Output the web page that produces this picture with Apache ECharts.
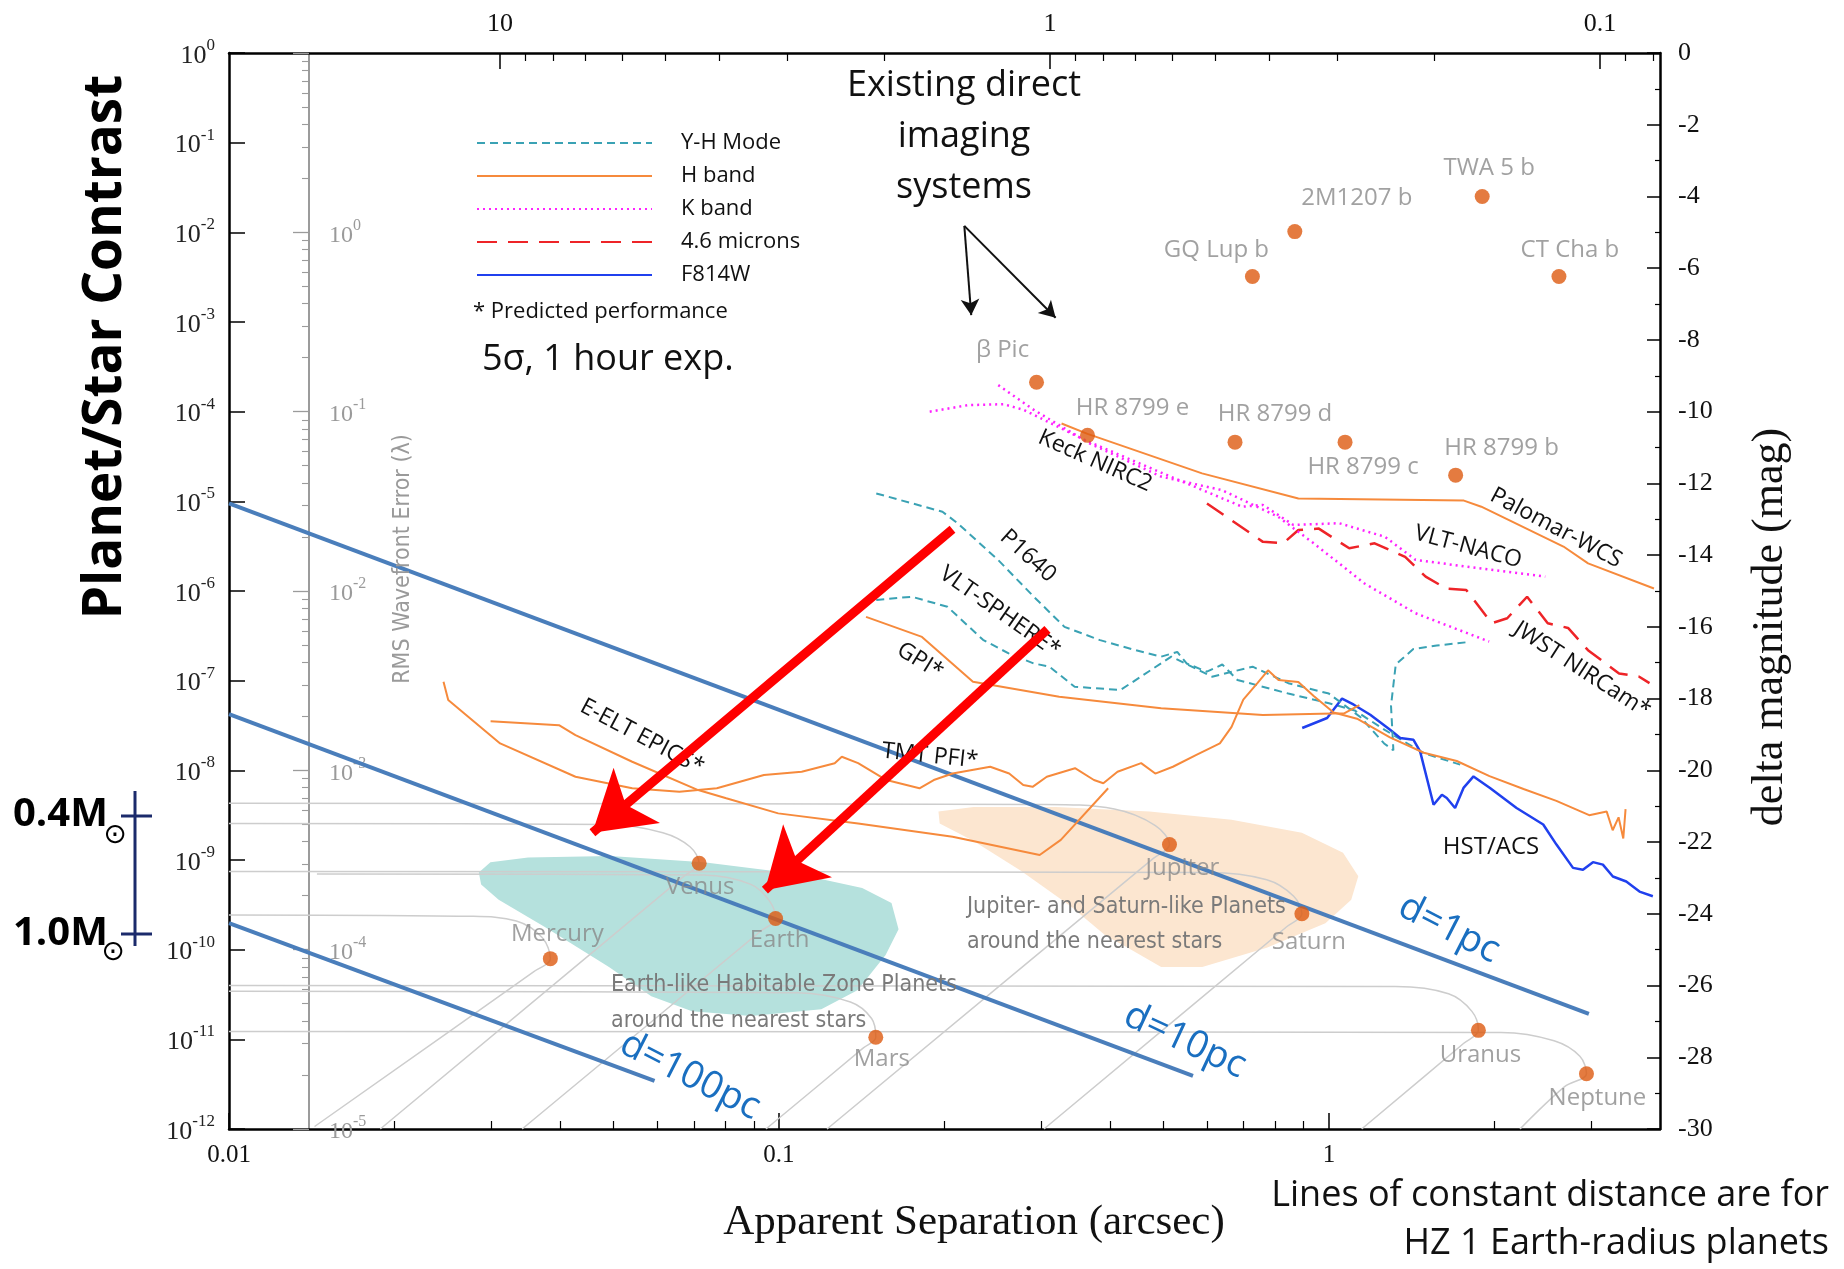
<!DOCTYPE html>
<html><head><meta charset="utf-8">
<script src="https://cdn.jsdelivr.net/npm/echarts@6/dist/echarts.min.js"></script>
<style>html,body{margin:0;padding:0;background:#fff}#c{width:1844px;height:1269px}</style>
</head><body><div id="c"></div>
<script>
// ---------------- DATA (separation in arcsec, delta magnitude in mag) ----------------
const planetNames = ['TWA 5 b','2M1207 b','GQ Lup b','CT Cha b','β Pic','HR 8799 e','HR 8799 d','HR 8799 c','HR 8799 b','Mercury','Venus','Earth','Mars','Jupiter','Saturn','Uranus','Neptune'];
const planetSep = [1.90,0.867,0.726,2.62,0.294,0.364,0.675,1.07,1.70,0.0384,0.0716,0.0986,0.150,0.513,0.893,1.87,2.94];
const planetMag = [-4.0,-4.98,-6.23,-6.23,-9.18,-10.66,-10.85,-10.85,-11.77,-25.25,-22.59,-24.13,-27.44,-22.07,-24.0,-27.25,-28.46];

const hBandUpper = [[0.3265,-10.33],[0.364,-10.62],[0.588,-11.72],[0.880,-12.42],[1.76,-12.48],[1.893,-12.65],[2.67,-13.76],[2.96,-14.23],[3.90,-14.93]];
const kBand1 = [[0.188,-10.0],[0.2204,-9.82],[0.2559,-9.79],[0.2787,-9.95],[0.3599,-10.79],[0.4955,-11.70],[0.6955,-12.65],[0.7586,-12.60],[0.8619,-13.16],[1.044,-13.11],[1.265,-13.49],[1.437,-14.13],[1.777,-14.32],[2.474,-14.60]];
const kBand2 = [[0.2505,-9.26],[0.2907,-9.95],[0.3677,-10.89],[0.4955,-11.81],[0.6397,-12.19],[0.8085,-12.93],[0.9383,-13.67],[1.161,-14.79],[1.437,-15.62],[1.956,-16.41]];
const band46 = [[0.6002,-12.56],[0.7586,-13.63],[0.8257,-13.67],[0.880,-13.30],[0.9587,-13.26],[1.089,-13.81],[1.211,-13.67],[1.376,-14.05],[1.4995,-14.60],[1.633,-14.93],[1.777,-14.97],[1.978,-15.90],[2.11,-15.76],[2.293,-15.16],[2.5,-15.90],[2.722,-16.03],[2.959,-16.65],[3.37,-17.30],[3.667,-17.39],[3.828,-17.57]];
const p1640 = [[0.1503,-12.28],[0.1983,-12.79],[0.2113,-13.11],[0.2505,-14.14],[0.2907,-15.16],[0.3305,-16.0],[0.3836,-16.37],[0.4452,-16.65],[0.4955,-16.83],[0.53,-16.70],[0.5511,-17.02],[0.60,-17.25],[0.64,-17.05],[0.6818,-17.48],[0.8437,-17.86],[1.0,-18.13],[1.114,-18.33],[1.266,-18.88],[1.486,-19.52],[1.733,-19.84]];
const sphere = [[0.1503,-15.25],[0.1744,-15.16],[0.2025,-15.44],[0.235,-16.36],[0.2616,-16.74],[0.2907,-17.02],[0.3103,-17.11],[0.3449,-17.67],[0.4178,-17.76],[0.455,-17.39],[0.5169,-16.83],[0.6131,-17.39],[0.7266,-17.11],[0.8437,-17.57],[1.0,-17.86],[1.1418,-18.52],[1.26,-19.25],[1.31,-19.44],[1.297,-18.20],[1.323,-17.05],[1.424,-16.62],[1.571,-16.52],[1.777,-16.43]];
const gpi = [[0.1440,-15.72],[0.182,-16.28],[0.2253,-17.53],[0.3233,-17.95],[0.4955,-18.27],[0.7586,-18.46],[1.066,-18.41],[1.136,-18.18]];
const tmtPfi = [[0.02455,-17.53],[0.02504,-18.04],[0.03112,-19.25],[0.04266,-20.18],[0.0541,-20.50],[0.0659,-20.60],[0.0771,-20.50],[0.0939,-20.13],[0.110,-20.04],[0.1263,-19.80],[0.1301,-19.62],[0.1393,-19.80],[0.1568,-20.27],[0.1801,-20.50],[0.1912,-20.27],[0.2069,-20.09],[0.2422,-19.90],[0.2622,-20.09],[0.2781,-20.41],[0.2892,-20.46],[0.3069,-20.18],[0.3454,-19.94],[0.3739,-20.27],[0.3889,-20.36],[0.4127,-20.04],[0.4556,-19.80],[0.4834,-20.09],[0.5204,-19.90],[0.5742,-19.57],[0.6335,-19.25],[0.6653,-18.79],[0.6988,-18.03],[0.7413,-17.57],[0.775,-17.21],[0.8098,-17.48],[0.880,-17.54],[0.9383,-17.93],[1.02,-18.39],[1.125,-18.56],[1.291,-19.08],[1.488,-19.51],[1.708,-19.74],[1.959,-20.16],[2.259,-20.52],[2.592,-20.85],[2.974,-21.25],[3.2,-21.15],[3.281,-21.67],[3.363,-21.31],[3.43,-21.90],[3.463,-21.08]];
const eeltEpics = [[0.02990,-18.63],[0.03981,-18.74],[0.04266,-19.02],[0.0541,-19.76],[0.0713,-20.55],[0.0802,-20.78],[0.0997,-21.20],[0.1393,-21.48],[0.2069,-21.85],[0.2979,-22.36],[0.3255,-21.94],[0.3968,-20.50]];
const f814w = [[0.8943,-18.82],[0.9927,-18.54],[1.0566,-18.00],[1.110,-18.17],[1.189,-18.45],[1.292,-18.87],[1.348,-19.10],[1.425,-19.15],[1.465,-19.47],[1.55,-20.96],[1.605,-20.68],[1.638,-20.77],[1.696,-21.05],[1.757,-20.49],[1.832,-20.17],[1.963,-20.49],[2.194,-21.05],[2.453,-21.51],[2.593,-22.07],[2.779,-22.72],[2.897,-22.77],[3.021,-22.56],[3.149,-22.63],[3.284,-22.96],[3.473,-23.10],[3.671,-23.38],[3.882,-23.51]];

const trackMercury = [[0.01,-24.03],[0.02736,-24.07],[0.03331,-24.20],[0.0371,-24.66],[0.0384,-25.25],[0.03584,-25.61],[0.01431,-29.93]];
const trackVenus = [[0.01,-21.48],[0.04932,-21.51],[0.0615,-21.74],[0.0689,-22.13],[0.0716,-22.59],[0.0672,-22.95],[0.01884,-30.0]];
const trackEarth = [[0.01445,-22.89],[0.0730,-22.92],[0.0889,-23.18],[0.0961,-23.64],[0.0986,-24.13],[0.0925,-24.49],[0.03412,-30.0]];
const trackMars = [[0.01,-26.16],[0.1082,-26.20],[0.1349,-26.46],[0.1474,-26.92],[0.150,-27.44],[0.1424,-27.74],[0.0947,-30.0]];
const trackJupiter = [[0.01,-20.92],[0.3033,-20.95],[0.4072,-21.08],[0.4836,-21.54],[0.513,-22.07],[0.4789,-22.46],[0.1223,-30.0]];
const trackSaturn = [[0.01,-22.82],[0.6031,-22.85],[0.7709,-23.05],[0.863,-23.51],[0.893,-24.0],[0.838,-24.36],[0.3033,-30.0]];
const trackUranus = [[0.01,-26.0],[1.323,-26.03],[1.65,-26.23],[1.82,-26.72],[1.87,-27.25],[1.759,-27.61],[1.147,-30.0]];
const trackNeptune = [[0.01,-27.28],[2.058,-27.31],[2.567,-27.54],[2.86,-27.97],[2.94,-28.46],[2.683,-28.82],[2.226,-30.0]];

const earthZone = [[0.02846,-22.85],[0.02988,-22.56],[0.03498,-22.43],[0.04932,-22.39],[0.0730,-22.56],[0.1082,-22.89],[0.1417,-23.28],[0.1602,-23.70],[0.1650,-24.43],[0.1563,-25.15],[0.1389,-26.13],[0.1194,-26.66],[0.0889,-26.85],[0.0695,-26.72],[0.0586,-26.30],[0.04908,-25.48],[0.03746,-24.36],[0.03093,-23.61],[0.02874,-23.18]];
const giantZone = [[0.195,-21.15],[0.2259,-21.02],[0.3186,-21.02],[0.4719,-21.15],[0.6653,-21.38],[0.893,-21.74],[1.061,-22.30],[1.131,-22.95],[1.098,-23.61],[0.9854,-24.26],[0.7709,-24.95],[0.5885,-25.48],[0.4955,-25.48],[0.4276,-24.92],[0.3935,-24.62],[0.3379,-23.77],[0.2749,-22.79],[0.2259,-21.97],[0.196,-21.48]];

const dist1pc = [[0.01,-12.56],[2.97,-26.79]];
const dist10pc = [[0.01,-18.43],[0.566,-28.52]];
const dist100pc = [[0.01,-24.26],[0.0594,-28.66]];

const redArrows = [[[0.2068,-13.28],[0.0458,-21.74]],[[0.3078,-16.07],[0.0943,-23.34]]];
const blackArrows = [[[0.2173,-4.82],[0.2237,-7.31]],[[0.2173,-4.82],[0.3185,-7.38]]];

const bottomMajor = [0.01,0.1,1];
const bottomMinor = [0.02,0.03,0.04,0.05,0.06,0.07,0.08,0.09,0.2,0.3,0.4,0.5,0.6,0.7,0.8,0.9,2,3];
const topMajor = [0.1,1,10];
const topMinor = [0.08,0.09,0.2,0.3,0.4,0.5,0.6,0.7,0.8,0.9,2,3,4,5,6,7,8,9];
const leftTicks = [1e-12,1e-11,1e-10,1e-9,1e-8,1e-7,1e-6,1e-5,1e-4,1e-3,1e-2,1e-1,1];
const wfeMajor = [1e-5,1e-4,1e-3,1e-2,1e-1,1,10];
const wfeLabels = [1e-5,1e-4,1e-3,1e-2,1e-1,1];
const wfeMinor = [2e-5,3e-5,4e-5,5e-5,6e-5,7e-5,8e-5,9e-5,2e-4,3e-4,4e-4,5e-4,6e-4,7e-4,8e-4,9e-4,2e-3,3e-3,4e-3,5e-3,6e-3,7e-3,8e-3,9e-3,0.02,0.03,0.04,0.05,0.06,0.07,0.08,0.09,0.2,0.3,0.4,0.5,0.6,0.7,0.8,0.9,2,3,4,5,6,7,8,9];

// ---------------- STYLE ----------------
const SANS = "'Open Sans','Noto Sans',sans-serif";
const NARROW = "'Liberation Sans Narrow','DejaVu Sans Condensed','Open Sans',sans-serif";
const SERIF = "'Liberation Serif','DejaVu Serif',serif";
const labelOffsets = {'TWA 5 b':[7,-28],'2M1207 b':[62,-33],'GQ Lup b':[-36,-26],'CT Cha b':[11,-26],'β Pic':[-34,-32],'HR 8799 e':[45,-27],'HR 8799 d':[40,-28],'HR 8799 c':[18,25],'HR 8799 b':[46,-27],'Mercury':[7,-24],'Venus':[1,24],'Earth':[4,22],'Mars':[6,22],'Jupiter':[13,24],'Saturn':[7,28],'Uranus':[2,25],'Neptune':[11,24]};

function powLabel(v){ const e = Math.round(Math.log10(v)); return '{b|10}{s|' + e + '}'; }
function plainLabel(v){ return String(+Number(v).toPrecision(4)); }

const chart = echarts.init(document.getElementById('c'), null, {renderer:'canvas'});

function curve(name, data, color, width, type, z){
  return {type:'line', name, data, xAxisIndex:0, yAxisIndex:1, symbol:'none', showSymbol:false, silent:true,
    lineStyle:{color, width, type}, itemStyle:{color}, z: z||4, animation:false};
}
function track(data){
  return {type:'line', name:'track', data, xAxisIndex:0, yAxisIndex:1, symbol:'none', smooth:0.35, silent:true,
    lineStyle:{color:'#cdcdcd', width:1.5}, z:1, animation:false};
}
function region(poly, fill){
  return {type:'custom', name:'region', xAxisIndex:0, yAxisIndex:1, silent:true, z:0, data:[[poly[0][0], poly[0][1]]],
    renderItem:(params, api) => ({type:'polygon', shape:{points: poly.map(p => api.coord(p))}, style:{fill}})};
}
function distLine(data){
  return {type:'line', name:'dist', data, xAxisIndex:0, yAxisIndex:1, symbol:'none', silent:true,
    lineStyle:{color:'#4a7ebb', width:4}, z:3, animation:false};
}
function arrowSeries(list, color, width, size, z){
  return {type:'line', name:'arrow', data:[], xAxisIndex:0, yAxisIndex:1, z, silent:true,
    markLine:{silent:true, animation:false, z, symbol:['none','arrow'], symbolSize:size, label:{show:false},
      lineStyle:{color, width, type:'solid'},
      data: list.map(seg => [{coord: seg[0]}, {coord: seg[1]}])}};
}

const planetData = planetNames.map((n,i) => ({name:n, value:[planetSep[i], planetMag[i]],
  label:{offset: labelOffsets[n]}}));

const T = (text, x, y, o) => ({type:'text', x, y, z:5, silent:true, rotation:(o.rot||0)*Math.PI/180,
  style:{text, fill:o.color||'#111', fontSize:o.size||23, fontFamily:o.font||SANS, fontWeight:o.weight||'normal',
    align:o.align||'center', verticalAlign:'middle', lineHeight:o.lh}});
const L = (x1,y1,x2,y2,stroke,w) => ({type:'line', z:5, silent:true, shape:{x1,y1,x2,y2}, style:{stroke, lineWidth:w}});

const GRAY = '#8a8a8a';
const option = {
  backgroundColor:'#fff',
  animation:false,
  grid:{left:229, right:184, top:53, bottom:140, containLabel:false, outerBoundsMode:'none'},
  legend:{show:true, orient:'vertical', left:471, top:125, itemWidth:175, itemHeight:14, itemGap:7, selectedMode:false,
    itemStyle:{opacity:0},
    data:['Y-H Mode','H band','K band','4.6 microns','F814W'],
    textStyle:{fontSize:22, fontFamily:SANS, color:'#111', lineHeight:26, padding:[0,0,0,24]}},
  xAxis:[
    {type:'log', position:'bottom', min:0.01, max:4,
      axisLine:{show:true, onZero:false, lineStyle:{color:'#000', width:2.5}},
      axisTick:{show:true, inside:true, length:16, lineStyle:{color:'#000', width:1.5}, customValues:bottomMajor},
      axisLabel:{show:true, customValues:bottomMajor, formatter:plainLabel, fontFamily:SERIF, fontSize:25, color:'#111', margin:14},
      splitLine:{show:false}, minorTick:{show:false}, minorSplitLine:{show:false}},
    {type:'log', position:'bottom', min:0.01, max:4,
      axisLine:{show:false, onZero:false},
      axisTick:{show:true, inside:true, length:8, lineStyle:{color:'#000', width:1.2}, customValues:bottomMinor},
      axisLabel:{show:false}, splitLine:{show:false}},
    {type:'log', position:'top', inverse:true, min:0.07777, max:31.11,
      axisLine:{show:true, onZero:false, lineStyle:{color:'#000', width:2.5}},
      axisTick:{show:true, inside:true, length:16, lineStyle:{color:'#000', width:1.5}, customValues:topMajor},
      axisLabel:{show:true, customValues:topMajor, formatter:plainLabel, fontFamily:SERIF, fontSize:26, color:'#111', margin:16},
      splitLine:{show:false}},
    {type:'log', position:'top', inverse:true, min:0.07777, max:31.11,
      axisLine:{show:false, onZero:false},
      axisTick:{show:true, inside:true, length:8, lineStyle:{color:'#000', width:1.2}, customValues:topMinor},
      axisLabel:{show:false}, splitLine:{show:false}}
  ],
  yAxis:[
    {type:'log', position:'left', min:1e-12, max:1, splitNumber:12,
      axisLine:{show:true, onZero:false, lineStyle:{color:'#000', width:2.5}},
      axisTick:{show:true, inside:true, length:16, lineStyle:{color:'#000', width:1.5}, customValues:leftTicks},
      axisLabel:{show:true, customValues:leftTicks, formatter:powLabel, margin:14,
        rich:{b:{fontSize:26, fontFamily:SERIF, color:'#222', lineHeight:32, verticalAlign:'bottom'},
              s:{fontSize:17, fontFamily:SERIF, color:'#222', lineHeight:18, verticalAlign:'top'}}},
      splitLine:{show:false}},
    {type:'value', position:'right', min:-30, max:0, interval:2,
      axisLine:{show:true, onZero:false, lineStyle:{color:'#000', width:2.5}},
      axisTick:{show:true, inside:true, length:13, lineStyle:{color:'#000', width:1.5}},
      minorTick:{show:true, splitNumber:2, length:5, lineStyle:{color:'#000', width:1.2}},
      axisLabel:{show:true, fontFamily:SERIF, fontSize:26, color:'#111', margin:18},
      splitLine:{show:false}, minorSplitLine:{show:false}},
    {type:'log', position:'left', offset:-80, min:1e-5, max:10,
      axisLine:{show:true, onZero:false, lineStyle:{color:'#9b9b9b', width:2}},
      axisTick:{show:true, inside:false, length:16, lineStyle:{color:'#9b9b9b', width:1.3}, customValues:wfeMajor},
      axisLabel:{show:true, inside:true, customValues:wfeLabels, formatter:powLabel, margin:20,
        rich:{b:{fontSize:24, fontFamily:SERIF, color:'#9a9a9a', lineHeight:30, verticalAlign:'bottom'},
              s:{fontSize:16, fontFamily:SERIF, color:'#9a9a9a', lineHeight:16, verticalAlign:'top'}}},
      splitLine:{show:false}},
    {type:'log', position:'left', offset:-80, min:1e-5, max:10,
      axisLine:{show:false, onZero:false},
      axisTick:{show:true, inside:false, length:7, lineStyle:{color:'#9b9b9b', width:1.1}, customValues:wfeMinor},
      axisLabel:{show:false}, splitLine:{show:false}}
  ],
  series:[
    region(earthZone, '#b5e1dd'),
    region(giantZone, '#fce6d0'),
    track(trackMercury), track(trackVenus), track(trackEarth), track(trackMars),
    track(trackJupiter), track(trackSaturn), track(trackUranus), track(trackNeptune),
    distLine(dist1pc), distLine(dist10pc), distLine(dist100pc),
    curve('Y-H Mode', p1640, '#3aa2b4', 2, [8,5]),
    curve('H band', hBandUpper, '#f68a3c', 2, 'solid'),
    curve('K band', kBand1, '#ff22ff', 2.5, [2,4]),
    curve('4.6 microns', band46, '#ee2428', 2.5, [20,11]),
    curve('F814W', f814w, '#2040ee', 2.5, 'solid'),
    curve('Y-H Mode', sphere, '#3aa2b4', 2, [8,5]),
    curve('H band', gpi, '#f68a3c', 2, 'solid'),
    curve('H band', tmtPfi, '#f68a3c', 2, 'solid'),
    curve('H band', eeltEpics, '#f68a3c', 2, 'solid'),
    curve('K band', kBand2, '#ff22ff', 2.5, [2,4]),
    {type:'scatter', name:'planets', xAxisIndex:0, yAxisIndex:1, data:planetData, symbolSize:15, z:6, silent:true,
      itemStyle:{color:'#dd5a10'},
      label:{show:true, position:'inside', formatter:'{b}', color:GRAY, fontSize:24, fontFamily:SANS}},
    arrowSeries(redArrows, '#ff0000', 9, [54,58], 10),
    arrowSeries(blackArrows, '#111', 2, [14,16], 10)
  ],
  graphic:{elements:[
    T('Existing direct\nimaging\nsystems', 964, 137, {size:36, lh:51}),
    T('5σ, 1 hour exp.', 482, 360, {size:36, align:'left'}),
    T('* Predicted performance', 473, 312, {size:22, align:'left'}),
    T('Keck NIRC2', 1095, 461, {rot:-24}),
    T('Palomar-WCS', 1556, 528, {rot:-28}),
    T('P1640', 1028, 556, {rot:-42}),
    T('VLT-SPHERE*', 1000, 612, {rot:-35}),
    T('GPI*', 920, 661, {rot:-32}),
    T('E-ELT EPICS*', 642, 737, {rot:-28}),
    T('TMT PFI*', 930, 756, {rot:-6}),
    T('VLT-NACO', 1468, 547, {rot:-15}),
    T('JWST NIRCam*', 1582, 670, {rot:-33}),
    T('HST/ACS', 1491, 847, {size:24}),
    T('Jupiter- and Saturn-like Planets', 967, 907, {font:NARROW, size:23, color:'#7a7a7a', align:'left'}),
    T('around the nearest stars', 967, 942, {font:NARROW, size:23, color:'#7a7a7a', align:'left'}),
    T('Earth-like Habitable Zone Planets', 611, 985, {font:NARROW, size:23, color:'#7a7a7a', align:'left'}),
    T('around the nearest stars', 611, 1021, {font:NARROW, size:23, color:'#7a7a7a', align:'left'}),
    T('RMS Wavefront Error (λ)', 403, 559, {font:NARROW, size:23, color:'#9a9a9a', rot:90}),
    T('d=1pc', 1449, 929, {size:38, color:'#1a6fc0', rot:-27}),
    T('d=10pc', 1185, 1041, {size:38, color:'#1a6fc0', rot:-25}),
    T('d=100pc', 690, 1076, {size:38, color:'#1a6fc0', rot:-27}),
    T('Planet/Star Contrast', 106, 347, {size:53, weight:'bold', rot:90, color:'#000'}),
    T('Apparent Separation (arcsec)', 974, 1223, {font:SERIF, size:43, color:'#111'}),
    T('delta magnitude (mag)', 1770, 627, {font:SERIF, size:44, color:'#111', rot:90}),
    T('Lines of constant distance are for', 1829, 1196, {size:36, align:'right', color:'#111'}),
    T('HZ 1 Earth-radius planets', 1829, 1244, {size:36, align:'right', color:'#111'}),
    T('0.4M', 13, 815, {size:40, weight:'bold', align:'left', color:'#000'}),
    T('⊙', 115, 836, {size:28, color:'#000', font:"'DejaVu Sans',sans-serif"}),
    T('1.0M', 13, 934, {size:40, weight:'bold', align:'left', color:'#000'}),
    T('⊙', 113, 953, {size:28, color:'#000', font:"'DejaVu Sans',sans-serif"}),
    L(135, 791, 135, 946, '#1b2a6b', 3),
    L(121, 816, 152, 816, '#1b2a6b', 3),
    L(121, 934, 152, 934, '#1b2a6b', 3)
  ]}
};
chart.setOption(option);
</script>
</body></html>
